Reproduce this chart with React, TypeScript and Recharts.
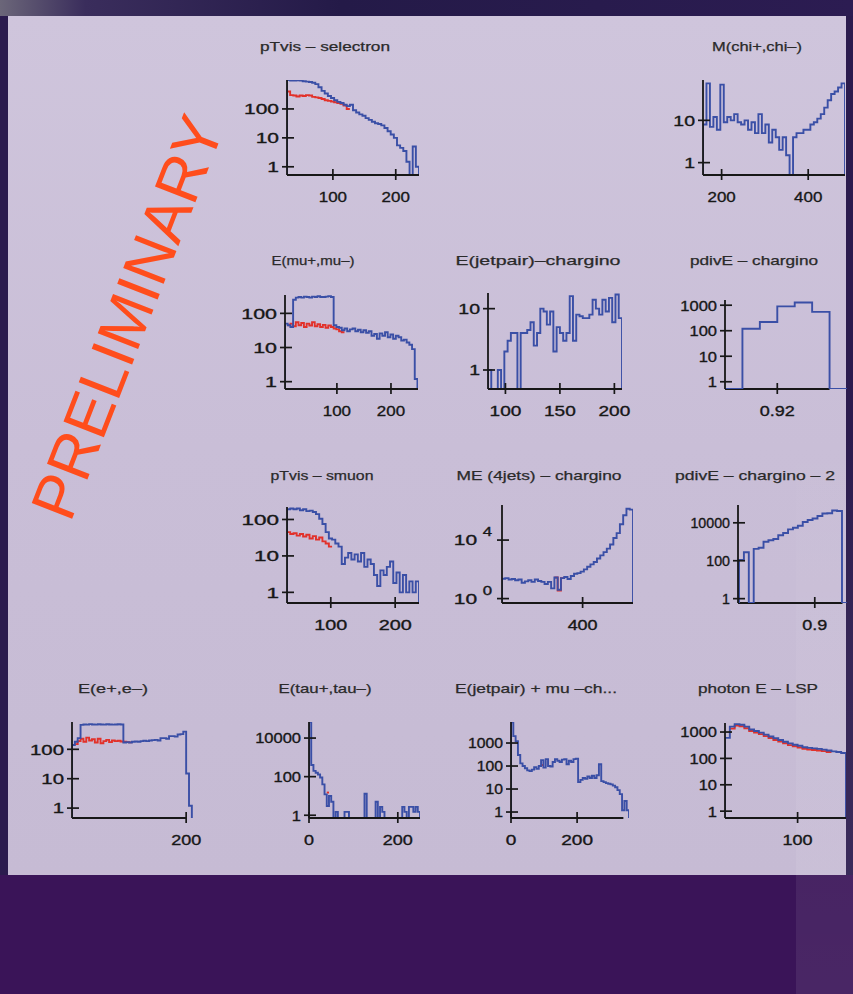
import { Line, LineChart, ReferenceLine, XAxis, YAxis } from 'recharts'

const FONT = '"Liberation Sans", Arial, Helvetica, sans-serif'
const INK = '#171717'
const TITLE_INK = '#2a2a2a'
const BLUE = '#3a4fa6'
const RED = '#e2312a'

// bin contents (0 = empty bin)
const selectronBlue = [1000, 950, 950, 980, 950, 900, 880, 850, 800, 720, 560, 420, 340, 280, 240, 200, 175, 160, 140, 125, 140, 90, 75, 65, 58, 48, 42, 36, 32, 30, 27, 22, 17, 13, 10, 5.5, 4.5, 3.5, 1.5, 0, 5, 1]
const selectronRed = [400, 300, 290, 270, 290, 280, 300, 290, 260, 250, 240, 220, 200, 190, 180, 170, 160, 150, 130, 100]

const chiMass = [8, 75, 7, 12, 6, 70, 9, 12, 10, 14, 9, 8, 10, 6, 9, 5, 14, 5, 8, 3, 6, 4, 2, 4, 1.5, 0, 4, 5, 5, 6, 6, 8, 9, 11, 14, 20, 30, 42, 48, 60, 75]

const muPairBlue = [50, 45, 40, 250, 290, 300, 290, 310, 300, 290, 310, 300, 320, 300, 300, 310, 320, 300, 45, 40, 38, 32, 36, 30, 34, 36, 30, 33, 28, 32, 27, 30, 22, 25, 18, 26, 22, 28, 20, 24, 18, 22, 20, 16, 17, 14, 12, 9, 1.2]
const muPairRed = [45, 50, 42, 55, 45, 52, 40, 50, 44, 55, 42, 48, 40, 46, 38, 44, 40, 36, 34, 30, 28]

const jetPair = [1, 0, 0, 1, 0, 2, 3, 4, 4, 0, 4, 4, 4.5, 6, 2.5, 4, 10, 9, 5.5, 9, 2, 5, 4, 3, 4, 16, 3, 8, 7.5, 7, 7, 8, 14, 10, 8, 14, 9, 15, 6, 17, 7]

const pdivE = [0, 120, 220, 900, 1270, 550, 0]

const smuonBlue = [190, 200, 190, 200, 180, 190, 170, 175, 160, 140, 105, 75, 45, 30, 28, 22, 18, 6, 9, 12, 8, 11, 7, 12, 5, 8, 6, 3, 1.5, 4, 3, 5, 7, 1.8, 3.5, 1, 3, 1, 2, 1, 2]
const smuonRed = [45, 40, 42, 36, 40, 34, 38, 30, 35, 28, 32, 25, 22, 18]

const me4jBlue = [23, 25, 20, 22, 18, 20, 12, 15, 18, 14, 20, 16, 14, 10, 14, 5, 28, 4, 25, 30, 22, 35, 50, 55, 70, 100, 150, 220, 320, 550, 900, 1500, 2600, 5000, 14000, 30000, 120000, 500000, 1400000, 1200000]
const me4jRed = [28, 3.5, 25]

const pdivE2 = [110, 280, 0, 420, 480, 1000, 1200, 1400, 2200, 2900, 4500, 5500, 7000, 11000, 14000, 17000, 23000, 31000, 32000, 45000, 42000, 0]

const eePairBlue = [140, 180, 240, 680, 700, 690, 720, 700, 690, 710, 700, 690, 710, 700, 690, 700, 710, 700, 170, 175, 170, 180, 185, 180, 190, 195, 190, 200, 205, 210, 200, 240, 240, 230, 280, 280, 270, 320, 330, 400, 15, 1.2]
const eePairRed = [150, 190, 230, 180, 250, 200, 220, 170, 230, 160, 190, 210, 175, 200, 190, 195, 185, 180, 175, 172]

const tauPairBlue = [68000, 400, 200, 160, 130, 90, 40, 12, 3, 10, 5, 0, 1.5, 0, 0, 0, 1.5, 1.5, 0, 0, 0, 0, 0, 0, 0, 13, 0, 0, 0, 0, 5, 0, 2.7, 1.5, 0, 0, 0, 0, 0, 0, 0, 0, 2.7, 1.5, 0, 2.7, 2.7, 1.5, 2.7, 1.5]
const tauPairRed = [15]

const jetMuBlue = [8000, 2000, 1200, 300, 130, 100, 80, 65, 60, 70, 90, 75, 100, 180, 85, 200, 100, 95, 150, 200, 170, 150, 190, 200, 120, 170, 150, 200, 210, 20, 25, 30, 28, 35, 30, 38, 30, 40, 120, 22, 20, 18, 17, 16, 14, 12, 9, 6, 1.2, 3, 1.2]
const jetMuRed = [110]

const photonBlue = [600, 1600, 2000, 1900, 1600, 1250, 1100, 950, 800, 680, 580, 500, 430, 370, 330, 300, 265, 250, 240, 230, 215, 200, 185, 175, 160]
const photonRed = [1350, 1750, 1650, 1400, 1100, 950, 830, 700, 590, 500, 440, 375, 320, 290, 260, 230, 218, 208, 200, 188, 175]

// axis ticks
const ticksDecades3 = [1, 10, 100]
const ticksDecades4 = [1, 10, 100, 1000]
const ticksTwoDecades = [1, 10]
const ticksEven = [1, 100, 10000]
const ticksPow = [1, 10000]

type Series = { start: number; width: number; counts: number[]; color: string; open?: boolean }

type PlotSpec = {
  title: string
  titleX: number
  titleY: number
  titleW: number
  left: number
  right: number
  top: number
  bottom: number
  xDomain: [number, number]
  xTicks: number[]
  xEnd?: number
  yDomain: [number, number]
  yTicks: number[]
  ySx: number
  xSx: number
  powers?: boolean
  series: Series[]
}

const plots: PlotSpec[] = [
  {
    title: 'pTvis – selectron', titleX: 325, titleY: 51, titleW: 130,
    left: 287, right: 419, top: 80, bottom: 175,
    xDomain: [27, 237], xTicks: [100, 200], yDomain: [0.52, 1000], yTicks: ticksDecades3,
    ySx: 1.4, xSx: 1.13,
    series: [
      { start: 27, width: 5, counts: selectronRed, color: RED, open: true },
      { start: 27, width: 5, counts: selectronBlue, color: BLUE },
    ],
  },
  {
    title: 'M(chi+,chi–)', titleX: 757, titleY: 51, titleW: 90,
    left: 703, right: 845, top: 80, bottom: 175,
    xDomain: [157, 485], xTicks: [200, 400], yDomain: [0.51, 90], yTicks: ticksTwoDecades,
    ySx: 1.3, xSx: 1.13,
    series: [{ start: 157, width: 8, counts: chiMass, color: BLUE }],
  },
  {
    title: 'E(mu+,mu–)', titleX: 313, titleY: 265, titleW: 83,
    left: 285, right: 418, top: 295, bottom: 389,
    xDomain: [4, 250], xTicks: [100, 200], yDomain: [0.61, 345], yTicks: ticksDecades3,
    ySx: 1.43, xSx: 1.13,
    series: [
      { start: 9, width: 5, counts: muPairRed, color: RED, open: true },
      { start: 4, width: 5, counts: muPairBlue, color: BLUE },
    ],
  },
  {
    title: 'E(jetpair)–chargino', titleX: 538, titleY: 265, titleW: 165,
    left: 488, right: 622, top: 293, bottom: 389,
    xDomain: [84, 207], xTicks: [100, 150, 200], yDomain: [0.49, 18], yTicks: ticksTwoDecades,
    ySx: 1.3, xSx: 1.27,
    series: [{ start: 84, width: 3, counts: jetPair, color: BLUE }],
  },
  {
    title: 'pdivE – chargino', titleX: 754, titleY: 265, titleW: 128,
    left: 725, right: 847, top: 300, bottom: 389,
    xDomain: [0.905, 0.94], xTicks: [0.92], xEnd: 0.935, yDomain: [0.52, 1600], yTicks: ticksDecades4,
    ySx: 1.1, xSx: 1.2,
    series: [{ start: 0.905, width: 0.005, counts: pdivE, color: BLUE }],
  },
  {
    title: 'pTvis – smuon', titleX: 322, titleY: 480, titleW: 103,
    left: 287, right: 419, top: 507, bottom: 603,
    xDomain: [32, 237], xTicks: [100, 200], yDomain: [0.51, 220], yTicks: ticksDecades3,
    ySx: 1.5, xSx: 1.32,
    series: [
      { start: 32, width: 5, counts: smuonRed, color: RED, open: true },
      { start: 32, width: 5, counts: smuonBlue, color: BLUE },
    ],
  },
  {
    title: 'ME (4jets) – chargino', titleX: 539, titleY: 480, titleW: 165,
    left: 502, right: 633, top: 505, bottom: 603,
    xDomain: [240, 500], xTicks: [400], yDomain: [0.5, 2500000], yTicks: ticksPow,
    ySx: 1.4, xSx: 1.2, powers: true,
    series: [
      { start: 344, width: 6.5, counts: me4jRed, color: RED, open: true },
      { start: 240, width: 6.5, counts: me4jBlue, color: BLUE },
    ],
  },
  {
    title: 'pdivE – chargino – 2', titleX: 755, titleY: 480, titleW: 160,
    left: 738, right: 847, top: 505, bottom: 603,
    xDomain: [0.8233, 0.9322], xTicks: [0.9], xEnd: 0.9277, yDomain: [0.59, 87000], yTicks: ticksEven,
    ySx: 0.95, xSx: 1.2,
    series: [{ start: 0.8243, width: 0.0049, counts: pdivE2, color: BLUE }],
  },
  {
    title: 'E(e+,e–)', titleX: 113, titleY: 693, titleW: 70,
    left: 72, right: 193, top: 722, bottom: 818,
    xDomain: [0, 212], xTicks: [200], xEnd: 201, yDomain: [0.46, 850], yTicks: ticksDecades3,
    ySx: 1.36, xSx: 1.2,
    series: [
      { start: 5, width: 5, counts: eePairRed, color: RED, open: true },
      { start: 0, width: 5, counts: eePairBlue, color: BLUE },
    ],
  },
  {
    title: 'E(tau+,tau–)', titleX: 325, titleY: 693, titleW: 93,
    left: 309, right: 420, top: 722, bottom: 818,
    xDomain: [0, 250], xTicks: [0, 200], yDomain: [0.72, 68000], yTicks: ticksEven,
    ySx: 1.1, xSx: 1.2,
    series: [
      { start: 40, width: 5, counts: tauPairRed, color: RED, open: true },
      { start: 0, width: 5, counts: tauPairBlue, color: BLUE },
    ],
  },
  {
    title: 'E(jetpair) + mu –ch...', titleX: 536, titleY: 693, titleW: 162,
    left: 511, right: 629, top: 722, bottom: 818,
    xDomain: [0, 357], xTicks: [0, 200], xEnd: 340, yDomain: [0.55, 8200], yTicks: ticksDecades4,
    ySx: 1.05, xSx: 1.27,
    series: [
      { start: 91, width: 7, counts: jetMuRed, color: RED, open: true },
      { start: 0, width: 7, counts: jetMuBlue, color: BLUE },
    ],
  },
  {
    title: 'photon E – LSP', titleX: 758, titleY: 693, titleW: 120,
    left: 725, right: 846, top: 723, bottom: 818,
    xDomain: [25, 150], xTicks: [100], yDomain: [0.55, 2200], yTicks: ticksDecades4,
    ySx: 1.1, xSx: 1.2,
    series: [
      { start: 30, width: 5, counts: photonRed, color: RED, open: true },
      { start: 25, width: 5, counts: photonBlue, color: BLUE },
    ],
  },
]

// turn bin contents into step points; empty bins sit on the axis floor
function toSteps(s: Series, floor: number) {
  const pts: { x: number; y: number }[] = []
  if (!s.open) pts.push({ x: s.start, y: floor })
  s.counts.forEach((c, i) => pts.push({ x: s.start + i * s.width, y: c > 0 ? c : floor }))
  const last = s.counts[s.counts.length - 1]
  const end = s.start + s.counts.length * s.width
  pts.push({ x: end, y: s.open ? (last > 0 ? last : floor) : floor })
  return pts
}

// labels are drawn with a thin outline so they read as heavy as the scanned axes
const labelText = { fontSize: 15, fontFamily: FONT, fill: INK, stroke: INK, strokeWidth: 0.35 }

function YTick(props: any) {
  const { x, y, payload, sx, powers } = props
  const v = payload.value as number
  return (
    <g>
      <line x1={x - 5} x2={x + 7} y1={y} y2={y} stroke={INK} strokeWidth={1.7} />
      <g transform={`translate(${powers ? x - 10 : x - 8},${y}) scale(${sx},1)`}>
        <text textAnchor="end" dy="0.36em" {...labelText}>
          {powers ? (
            <>
              10
              <tspan dx={4} dy={-9} fontSize={12}>
                {Math.round(Math.log10(v))}
              </tspan>
            </>
          ) : (
            v
          )}
        </text>
      </g>
    </g>
  )
}

function XTick(props: any) {
  const { x, y, payload, sx } = props
  return (
    <g>
      <line x1={x} x2={x} y1={y - 6} y2={y + 5} stroke={INK} strokeWidth={1.7} />
      <g transform={`translate(${x},${y + 27}) scale(${sx},1)`}>
        <text textAnchor="middle" {...labelText}>
          {payload.value}
        </text>
      </g>
    </g>
  )
}

const YW = 64
const XH = 34
const PAD_T = 4
const PAD_R = 24

function Histo({ p }: { p: PlotSpec }) {
  const plotW = p.right - p.left
  const plotH = p.bottom - p.top
  const floor = p.yDomain[0]
  const axisStyle = { stroke: INK, strokeWidth: 1.8 }
  return (
    <div style={{ position: 'absolute', left: p.left - YW, top: p.top - PAD_T }}>
      <LineChart
        width={YW + plotW + PAD_R}
        height={PAD_T + plotH + XH}
        margin={{ top: PAD_T, right: PAD_R, bottom: 0, left: 0 }}
      >
        <XAxis
          dataKey="x"
          type="number"
          domain={p.xDomain}
          ticks={p.xTicks}
          interval={0}
          allowDataOverflow
          height={XH}
          tickSize={0}
          tickMargin={0}
          tickLine={false}
          axisLine={p.xEnd === undefined ? axisStyle : false}
          tick={(t: any) => <XTick {...t} sx={p.xSx} />}
        />
        <YAxis
          type="number"
          scale="log"
          domain={p.yDomain}
          ticks={p.yTicks}
          interval={0}
          allowDataOverflow
          width={YW}
          tickSize={0}
          tickMargin={0}
          tickLine={false}
          axisLine={axisStyle}
          tick={(t: any) => <YTick {...t} sx={p.ySx} powers={p.powers} />}
        />
        {p.xEnd !== undefined && (
          <ReferenceLine
            segment={[
              { x: p.xDomain[0], y: floor },
              { x: p.xEnd, y: floor },
            ]}
            stroke={INK}
            strokeWidth={1.8}
          />
        )}
        {p.series.map((s, i) => (
          <Line
            key={i}
            data={toSteps(s, floor)}
            dataKey="y"
            type="stepAfter"
            stroke={s.color}
            strokeWidth={1.9}
            dot={false}
            isAnimationActive={false}
          />
        ))}
      </LineChart>
    </div>
  )
}

export default function App() {
  return (
    <div
      style={{
        position: 'absolute',
        left: 0,
        top: 0,
        width: 853,
        height: 994,
        overflow: 'hidden',
        background: '#2b1b4e',
      }}
    >
      {/* top strip */}
      <div
        style={{
          position: 'absolute',
          left: 0,
          top: 0,
          width: 853,
          height: 16,
          background: 'linear-gradient(90deg, #6b6679 0%, #3a2d5c 10%, #241a48 40%, #2c1c52 100%)',
        }}
      />
      {/* light panel */}
      <div
        style={{
          position: 'absolute',
          left: 8,
          top: 16,
          width: 838,
          height: 859,
          background: 'linear-gradient(180deg, #cfc5dc 0%, #c9bed7 50%, #c6bbd4 100%)',
        }}
      />
      {/* bottom band */}
      <div style={{ position: 'absolute', left: 0, top: 875, width: 853, height: 119, background: '#3a1458' }} />
      {/* faint lighter column down the right edge */}
      <div
        style={{
          position: 'absolute',
          left: 796,
          top: 430,
          width: 57,
          height: 564,
          background: 'linear-gradient(180deg, rgba(255,255,255,0) 0%, rgba(255,255,255,0.05) 40%, rgba(255,255,255,0.08) 100%)',
        }}
      />
      {plots.map((p, i) => (
        <Histo key={i} p={p} />
      ))}
      <svg width={853} height={994} style={{ position: 'absolute', left: 0, top: 0, pointerEvents: 'none' }}>
        {plots.map((p, i) => (
          <text
            key={i}
            x={p.titleX}
            y={p.titleY}
            textAnchor="middle"
            fontSize={13}
            fontFamily={FONT}
            fill={TITLE_INK}
            stroke={TITLE_INK}
            strokeWidth={0.25}
            textLength={p.titleW}
            lengthAdjust="spacingAndGlyphs"
          >
            {p.title}
          </text>
        ))}
        <text
          transform="translate(127,317) rotate(-68.7)"
          textAnchor="middle"
          dy="0.35em"
          fontSize={63}
          fontFamily={FONT}
          fill="#ff4d1c"
        >
          PRELIMINARY
        </text>
      </svg>
    </div>
  )
}
